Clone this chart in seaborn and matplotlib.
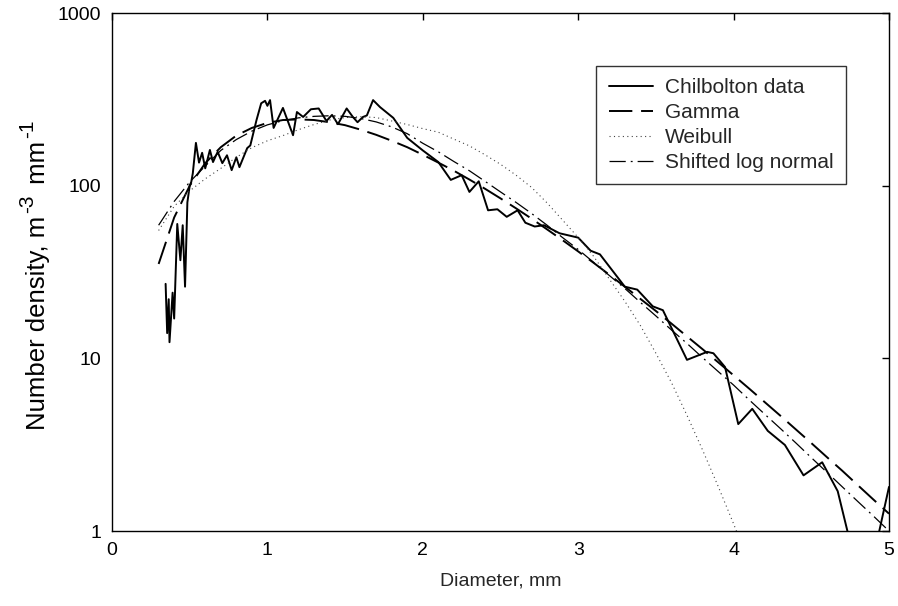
import matplotlib
matplotlib.use("Agg")
import matplotlib.pyplot as plt
import seaborn as sns
import pandas as pd

# ---------------- data ----------------
diam_obs = [0.345, 0.355, 0.365, 0.37, 0.39, 0.40, 0.42, 0.44, 0.455, 0.47,
            0.485, 0.50, 0.51, 0.52, 0.54, 0.56, 0.58, 0.60, 0.63, 0.65,
            0.68, 0.71, 0.74, 0.77, 0.80, 0.82, 0.87, 0.89, 0.93, 0.96,
            0.985, 1.00, 1.017, 1.04, 1.10, 1.165, 1.19, 1.23, 1.28, 1.33,
            1.38, 1.416, 1.454, 1.51, 1.55, 1.58, 1.615, 1.64, 1.68, 1.725, 1.81,
            1.90, 2.00, 2.10, 2.18, 2.25, 2.30, 2.36, 2.42, 2.48, 2.54,
            2.61, 2.66, 2.72, 2.78, 2.88, 3.00, 3.08, 3.14, 3.30, 3.38,
            3.48, 3.545, 3.70, 3.83, 3.87, 3.945, 4.03, 4.12, 4.22, 4.33,
            4.45, 4.57, 4.67, 4.84, 5.00]
chilbolton = [27, 14, 22, 12.4, 24, 17, 60, 37, 59, 26,
              80, 100, 105, 118, 177, 136, 155, 126, 161, 137,
              157, 135, 150, 123, 146, 128, 165, 171, 240, 300,
              310, 290, 313, 216, 282, 196, 267, 250, 277, 280,
              237, 257, 227, 280, 250, 233, 250, 255, 313, 285, 247,
              189, 160, 137, 108, 115, 92, 106, 72, 73, 66,
              72, 61, 58, 59, 53, 50, 42, 40, 26, 25,
              20, 19, 9.8, 10.9, 10.7, 8.9, 4.16, 5.1, 3.8, 3.15,
              2.1, 2.5, 1.7, 0.4, 1.8]

diam_fit = [0.3, 0.4, 0.5, 0.6, 0.7, 0.8, 0.9, 1.0,
            1.1, 1.2, 1.3, 1.4, 1.5, 1.6, 1.7, 1.8, 1.9, 2.0,
            2.1, 2.2, 2.3, 2.4, 2.5, 2.6, 2.7, 2.8, 2.9, 3.0,
            3.1, 3.2, 3.3, 3.4, 3.5, 3.6, 3.7, 3.8, 3.9, 4.0,
            4.1, 4.2, 4.3, 4.4, 4.5, 4.6, 4.7, 4.8, 4.9, 5.0]
gamma = [35.2, 65.4, 99.9, 135, 167, 195, 216, 231,
         240, 242, 240, 233, 224, 211, 197, 182, 167, 151,
         136, 122, 108.5, 96, 84.4, 73.9, 64.4, 55.8, 48.3, 41.6,
         35.7, 30.5, 26.0, 22.1, 18.8, 15.9, 13.4, 11.3, 9.5, 7.97,
         6.68, 5.58, 4.66, 3.88, 3.23, 2.68, 2.23, 1.84, 1.52, 1.26]
lognormal = [59, 81, 105, 130, 160, 185, 207, 225,
             238, 247, 252, 254, 252, 245, 234, 219, 200, 176,
             157, 138, 122, 106, 92, 80, 69, 59, 50, 42.7,
             35.9, 30.2, 25.4, 21.1, 17.6, 14.6, 12.2, 10.1, 8.4, 7.0,
             5.75, 4.75, 3.93, 3.24, 2.66, 2.19, 1.80, 1.48, 1.22, 1.0]

diam_weib = [0.3, 0.4, 0.5, 0.6, 0.7, 0.8, 0.9, 1.0,
             1.1, 1.2, 1.3, 1.4, 1.5, 1.6, 1.7, 1.8, 1.9, 2.0,
             2.1, 2.2, 2.3, 2.4, 2.5, 2.6, 2.7, 2.8, 2.9, 3.0,
             3.1, 3.2, 3.3, 3.4, 3.5, 3.6, 3.7, 3.8, 3.9, 4.0, 4.1]
weibull = [55, 75.9, 93.3, 109.6, 125.9, 146, 166, 182,
           195, 211, 226, 240, 248, 251, 248, 237, 226, 214,
           204, 186, 170, 151, 133, 115, 97.7, 79.4, 63.1, 50.1,
           38.9, 28.8, 21.4, 15.5, 10.7, 7.24, 4.68, 2.95, 1.82, 1.10, 0.65]

x_ticks = [0, 1, 2, 3, 4, 5]
y_ticks = [1, 10, 100, 1000]
y_ticklabels = ["1", "10", "100", "1000"]
ylabel_parts = ["Number density, m", "-3", " mm", "-1"]

# ---------------- style ----------------
sns.set_style("white")
plt.rcParams["font.family"] = ["Liberation Sans", "DejaVu Sans"]

W, H = 898, 606
fig = plt.figure(figsize=(W / 100, H / 100), dpi=100)
ax = fig.add_axes([112 / W, 75 / H, 777 / W, 518 / H])

df_obs = pd.DataFrame({"D": diam_obs, "N": chilbolton})
df_fit = pd.DataFrame({"D": diam_fit, "gamma": gamma, "lognormal": lognormal})
df_weib = pd.DataFrame({"D": diam_weib, "N": weibull})

sns.lineplot(data=df_obs, x="D", y="N", ax=ax, color="black", lw=1.4,
             sort=False, estimator=None, label="Chilbolton data")
sns.lineplot(data=df_fit, x="D", y="gamma", ax=ax, color="black", lw=1.4,
             sort=False, estimator=None, label="Gamma", linestyle=(0, (12, 4.5)))
sns.lineplot(data=df_weib, x="D", y="N", ax=ax, color="#444444", lw=0.8,
             sort=False, estimator=None, label="Weibull", linestyle=(0, (1, 3)))
sns.lineplot(data=df_fit, x="D", y="lognormal", ax=ax, color="black", lw=0.9,
             sort=False, estimator=None, label="Shifted log normal",
             linestyle=(0, (13, 4, 1.5, 4)))

ax.set_yscale("log")
ax.set_xlim(0, 5)
ax.set_ylim(1, 1000)
ax.set_xticks(x_ticks)
ax.set_xticklabels([str(t) for t in x_ticks])
ax.set_yticks(y_ticks)
ax.set_yticklabels(y_ticklabels)
ax.minorticks_off()
ax.tick_params(axis="both", which="major", direction="in", length=5, width=1,
               labelsize=14, top=True, right=True, pad=8, colors="black")
ax.set_xlabel("Diameter, mm", fontsize=14, labelpad=10)
ax.set_ylabel("")

for sp in ax.spines.values():
    sp.set_color("black")
    sp.set_linewidth(1.0)

leg = ax.legend(loc="upper left", bbox_to_anchor=(0.623, 0.898), borderaxespad=0,
                fontsize=15, frameon=True, fancybox=False, handlelength=2.15,
                handletextpad=0.55, labelspacing=0.28, borderpad=0.6)
leg.get_frame().set_edgecolor("black")
leg.get_frame().set_linewidth(1.0)

# y-axis label built from pieces so superscripts stay large
fig.canvas.draw()
renderer = fig.canvas.get_renderer()
base_x = 45.0           # baseline position in pixels from left
pos_y = 606 - 430.0     # start (bottom) of label in pixels from bottom
sizes = [18.5, 15, 18.5, 15]
raises = [0, 12, 0, 12]
gaps = [3, 3, 3, 0]
for part, size, rz, gap in zip(ylabel_parts, sizes, raises, gaps):
    t = fig.text((base_x - rz) / W, pos_y / H, part, rotation=90,
                 rotation_mode="anchor", ha="left", va="baseline",
                 fontsize=size, color="black")
    bb = t.get_window_extent(renderer)
    pos_y += bb.height + gap

fig.savefig("out.png", dpi=100)
